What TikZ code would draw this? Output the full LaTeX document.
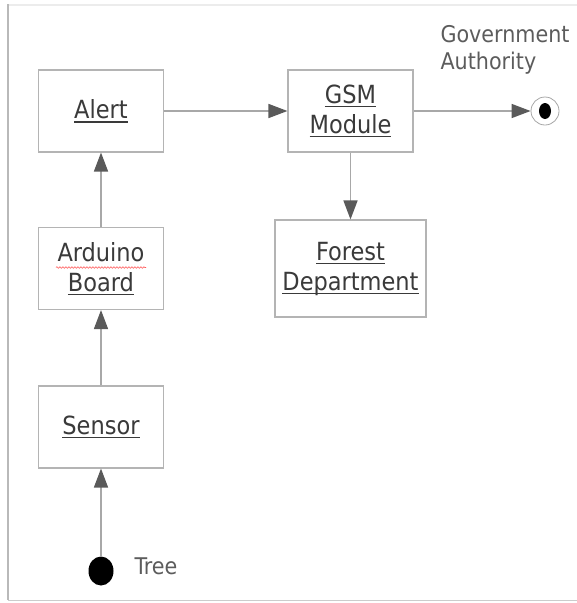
\documentclass[tikz,border=0pt]{standalone}
\usepackage{fontspec}
\setmainfont{DejaVu Sans Condensed}
\usetikzlibrary{arrows.meta,shapes.geometric,decorations.pathmorphing}

\definecolor{boxline}{HTML}{B4B4B4}
\definecolor{wire}{HTML}{A8A8A8}
\definecolor{tipgray}{HTML}{5A5A5A}
\definecolor{ink}{HTML}{3A3A3A}
\definecolor{labelink}{HTML}{5C5C5C}
% underlined word
\newcommand\uln[1]{\leavevmode\setbox0\hbox{#1}\rlap{\rule[-4pt]{\wd0}{1.1pt}}\box0}

\begin{document}
\begin{tikzpicture}[x=1pt,y=-1pt,
    block/.style={draw=boxline,line width=1.1pt,fill=white,text=ink,align=center,
      inner sep=0pt,minimum width=125pt,minimum height=82pt,font=\fontsize{25}{30}\selectfont},
    flow/.style={draw=wire,line width=1.5pt,-{Triangle[length=19pt,width=14pt,color=tipgray]}},
    note/.style={text=labelink,font=\fontsize{23}{27}\selectfont}]
        \useasboundingbox (0,0) rectangle (577,603);
        % frame
        \draw[gray!15,line width=1.5pt] (8,5) -- (577,5);
        \draw[gray!55,line width=2pt] (8,4) -- (8,600);
        \draw[gray!40,line width=1pt] (8,600) -- (577,600);
        % blocks
        \node[block] (alert) at (101,111) {\uln{Alert}};
        \node[block] (gsm) at (350.5,111) {\uln{GSM}\\\uln{Module}};
        \node[block,minimum width=151pt,minimum height=97pt] (forest) at (350.5,268.5) {\uln{Forest}\\\uln{Department}};
        \node[block] (arduino) at (101,268.5) {Arduino\\\uln{Board}};
        \draw[red!65,line width=0.6pt,decorate,decoration={snake,amplitude=0.8pt,segment length=3pt}]
            ([xshift=-45pt,yshift=1pt]arduino.center) -- ([xshift=45pt,yshift=1pt]arduino.center);
        \node[block] (sensor) at (101,427) {\uln{Sensor}};
        % end points
        \node[ellipse,fill=black,inner sep=0pt,minimum width=25pt,minimum height=29pt] (tree) at (101,571) {};
        \node[note,anchor=west] (treelabel) at (131,566) {Tree};
        \node[circle,draw=gray!70,line width=0.8pt,minimum size=28pt,inner sep=0pt] (gov) at (545,111) {};
        \fill (gov.center) ellipse (6 and 8);
        \node[note,anchor=north west,align=left] (govlabel) at (437,22) {Government\\Authority};
        % connectors
        \draw[flow] (tree) -- (sensor);
        \draw[flow] (sensor) -- (arduino);
        \draw[flow] (arduino) -- (alert);
        \draw[flow] (alert) -- (gsm);
        \draw[flow] (gsm) -- (gov);
        \draw[flow] (gsm) -- (forest);
\end{tikzpicture}
\end{document}
